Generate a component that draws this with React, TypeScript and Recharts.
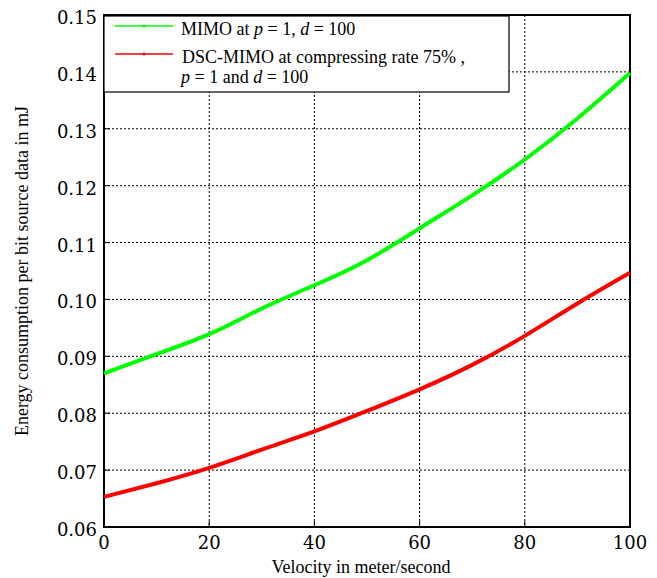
import {
  LineChart,
  Line,
  XAxis,
  YAxis,
  CartesianGrid,
  ReferenceArea,
  Legend,
  Label,
} from "recharts";

const velocity = [0, 10, 20, 30, 40, 50, 60, 70, 80, 90, 100];
const mimo = [0.087, 0.0904, 0.0939, 0.0984, 0.1025, 0.1069, 0.1125, 0.1183, 0.1246, 0.1318, 0.1398];
const dscMimo = [0.0653, 0.0677, 0.0704, 0.0736, 0.0768, 0.0804, 0.0842, 0.0885, 0.0936, 0.0993, 0.1047];
const xTicks = [0, 20, 40, 60, 80, 100];
const yTicks = [0.06, 0.07, 0.08, 0.09, 0.1, 0.11, 0.12, 0.13, 0.14, 0.15];

const data = velocity.map((v, i) => ({ v, mimo: mimo[i], dsc: dscMimo[i] }));

const green = "#00ff00";
const red = "#ff0000";
const serif = '"Liberation Serif", "Times New Roman", serif';
const tickFont = '"DejaVu Serif", serif';

// ticks point into the plot, labels sit outside
function XTick(props: any) {
  const { x, y, payload } = props;
  return (
    <g>
      <line x1={x} x2={x} y1={y} y2={y - 6} stroke="#000" />
      <text x={x} y={y + 22} textAnchor="middle" fontFamily={tickFont} fontSize={18} fill="#000">
        {payload.value}
      </text>
    </g>
  );
}

function YTick(props: any) {
  const { x, y, payload } = props;
  return (
    <g>
      <line x1={x} x2={x + 6} y1={y} y2={y} stroke="#000" />
      <text x={x - 7} y={y + 9} textAnchor="end" fontFamily={tickFont} fontSize={18} fill="#000">
        {Number(payload.value).toFixed(2)}
      </text>
    </g>
  );
}

function RightTick(props: any) {
  const { x, y } = props;
  return <line x1={x} x2={x - 6} y1={y} y2={y} stroke="#000" />;
}

function LegendBox() {
  return (
    <svg width={407} height={78} style={{ display: "block" }}>
      <rect x={1} y={1} width={405} height={76} fill="#fff" stroke="#000" strokeWidth={1.2} />
      <line x1={12} x2={70} y1={11} y2={11} stroke={green} strokeWidth={1.5} />
      <circle cx={41} cy={11} r={1.6} fill={green} />
      <line x1={12} x2={70} y1={39} y2={39} stroke={red} strokeWidth={1.5} />
      <circle cx={41} cy={39} r={1.6} fill={red} />
      <g fontFamily={serif} fontSize={18} fill="#000" style={{ whiteSpace: "pre" }}>
        <text x={78} y={20}>
          MIMO at <tspan fontStyle="italic">p</tspan> = 1,  <tspan fontStyle="italic">d</tspan> = 100
        </text>
        <text x={79} y={48}>DSC-MIMO at compressing rate 75% ,</text>
        <text x={78} y={68}>
          <tspan fontStyle="italic">p</tspan> = 1 and <tspan fontStyle="italic">d</tspan> = 100
        </text>
      </g>
    </svg>
  );
}

export default function App() {
  return (
    <LineChart
      width={649}
      height={570}
      data={data}
      margin={{ top: 7, right: 0, bottom: 0, left: 0 }}
      style={{ overflow: "visible" }}
    >
      <CartesianGrid yAxisId="l" stroke="#000" strokeDasharray="2 2" strokeWidth={1} />
      <XAxis
        dataKey="v"
        type="number"
        domain={[0, 100]}
        ticks={xTicks}
        height={51}
        axisLine={false}
        tickLine={false}
        tickSize={0}
        tickMargin={0}
        tick={<XTick />}
      >
        <Label
          content={(p: any) => (
            <text
              x={p.viewBox.x + p.viewBox.width / 2 - 6}
              y={p.viewBox.y + 46}
              textAnchor="middle"
              fontFamily={serif}
              fontSize={18}
              fill="#000"
            >
              Velocity in meter/second
            </text>
          )}
        />
      </XAxis>
      <YAxis
        yAxisId="l"
        domain={[0.06, 0.15]}
        ticks={yTicks}
        width={96}
        axisLine={false}
        tickLine={false}
        tickSize={0}
        tickMargin={0}
        tick={<YTick />}
        interval={0}
      >
        <Label
          content={(p: any) => {
            const cx = 20;
            const cy = p.viewBox.y + p.viewBox.height / 2;
            return (
              <text
                x={cx}
                y={cy}
                transform={`rotate(-90, ${cx}, ${cy})`}
                textAnchor="middle"
                fontFamily={serif}
                fontSize={18}
                fill="#000"
              >
                Energy consumption per bit source data in mJ
              </text>
            );
          }}
        />
      </YAxis>
      <YAxis
        yAxisId="r"
        orientation="right"
        domain={[0.06, 0.15]}
        ticks={yTicks}
        width={27}
        axisLine={false}
        tickLine={false}
        tickSize={0}
        tickMargin={0}
        tick={<RightTick />}
        interval={0}
      />
      <ReferenceArea
        yAxisId="l"
        x1={0}
        x2={100}
        y1={0.06}
        y2={0.15}
        fill="none"
        fillOpacity={0}
        stroke="#000"
        strokeWidth={2}
      />
      <Line
        yAxisId="l"
        type="natural"
        dataKey="mimo"
        name="MIMO at p = 1, d = 100"
        stroke={green}
        strokeWidth={4}
        dot={false}
        isAnimationActive={false}
      />
      <Line
        yAxisId="l"
        type="natural"
        dataKey="dsc"
        name="DSC-MIMO at compressing rate 75%, p = 1 and d = 100"
        stroke={red}
        strokeWidth={4}
        dot={false}
        isAnimationActive={false}
      />
      <Legend
        layout="vertical"
        align="center"
        verticalAlign="middle"
        content={<LegendBox />}
        wrapperStyle={{ left: 95, top: 7, width: 407, height: 78 }}
      />
    </LineChart>
  );
}
